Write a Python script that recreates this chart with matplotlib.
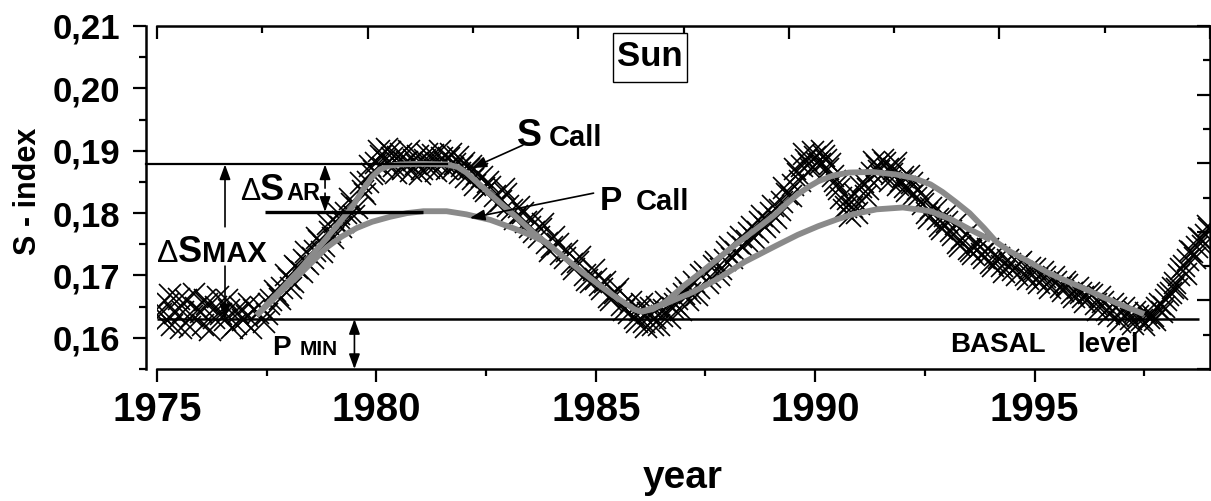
import matplotlib.pyplot as plt
from matplotlib.patches import Rectangle
from matplotlib.ticker import MultipleLocator, FuncFormatter

plt.rcParams['font.family'] = ['Liberation Sans', 'DejaVu Sans']

# measured S-index (crosses), first set
obs_year = [1975.05, 1975.15, 1975.3, 1975.4, 1975.55, 1975.65, 1975.8, 1975.9, 1976.05, 1976.15,
            1976.3, 1976.4, 1976.55, 1976.65, 1976.8, 1976.9, 1977.05, 1977.15, 1977.3,
            1977.4, 1977.5, 1977.6, 1977.75, 1977.85, 1978.0, 1978.1, 1978.2, 1978.35, 1978.45,
            1978.6, 1978.7, 1978.8, 1978.95, 1979.05, 1979.2, 1979.3, 1979.45, 1979.55, 1979.7,
            1979.8, 1979.9, 1980.0, 1980.1,
            1980.2, 1980.3, 1980.4, 1980.5, 1980.6, 1980.7, 1980.8, 1980.9, 1981.0, 1981.1,
            1981.2, 1981.3, 1981.4, 1981.5, 1981.6, 1981.7, 1981.8, 1981.9, 1982.0,
            1982.1, 1982.2, 1982.3, 1982.45, 1982.55, 1982.7, 1982.85, 1982.95, 1983.1, 1983.2,
            1983.35, 1983.5, 1983.6, 1983.75, 1983.9, 1984.0, 1984.15, 1984.3, 1984.45, 1984.6,
            1984.75, 1984.9, 1985.0, 1985.15, 1985.3, 1985.45, 1985.6, 1985.75, 1985.9, 1986.0,
            1986.1, 1986.2, 1986.3, 1986.4, 1986.5, 1986.6,
            1986.75, 1986.85, 1987.0, 1987.1, 1987.25, 1987.35, 1987.5, 1987.6, 1987.75, 1987.85,
            1988.0, 1988.1, 1988.25, 1988.35, 1988.5, 1988.6, 1988.75, 1988.85, 1989.0, 1989.1,
            1989.25, 1989.35, 1989.5, 1989.6, 1989.7, 1989.8, 1989.9, 1990.0, 1990.1, 1990.2,
            1990.3, 1990.4,
            1990.5, 1990.6, 1990.7, 1990.8, 1990.9, 1991.0, 1991.1, 1991.2, 1991.3, 1991.4,
            1991.5, 1991.6, 1991.7, 1991.8, 1991.9, 1992.0, 1992.1, 1992.2, 1992.3,
            1992.45, 1992.55, 1992.65, 1992.8, 1992.9, 1993.0, 1993.15, 1993.25, 1993.35, 1993.5,
            1993.6, 1993.75, 1993.85, 1994.0, 1994.1, 1994.25, 1994.4, 1994.5, 1994.65, 1994.8,
            1994.9, 1995.05, 1995.2, 1995.3, 1995.45, 1995.6, 1995.7, 1995.85, 1996.0, 1996.1,
            1996.25, 1996.4, 1996.5, 1996.65, 1996.8, 1996.9, 1997.05, 1997.2, 1997.3, 1997.45,
            1997.55,
            1997.7, 1997.8, 1997.9, 1998.0, 1998.1, 1998.2, 1998.3, 1998.4, 1998.5, 1998.6,
            1998.7, 1998.8, 1998.9, 1998.98]
obs_s = [0.1650, 0.1625, 0.1668, 0.1640, 0.1615, 0.1660, 0.1635, 0.1648, 0.1620, 0.1655,
         0.1632, 0.1665, 0.1628, 0.1645, 0.1622, 0.1650, 0.1635, 0.1615, 0.1640,
         0.1648, 0.1638, 0.1660, 0.1668, 0.1680, 0.1695, 0.1690, 0.1712, 0.1725, 0.1718,
         0.1740, 0.1755, 0.1748, 0.1770, 0.1785, 0.1778, 0.1800, 0.1815, 0.1808, 0.1835,
         0.1850, 0.1862, 0.1880, 0.1892,
         0.1885, 0.1898, 0.1875, 0.1890, 0.1870, 0.1882, 0.1868, 0.1878, 0.1862, 0.1885,
         0.1872, 0.1893, 0.1880, 0.1888, 0.1870, 0.1895, 0.1878, 0.1865, 0.1880,
         0.1870, 0.1855, 0.1862, 0.1840, 0.1850, 0.1828, 0.1820, 0.1830, 0.1805, 0.1795,
         0.1800, 0.1778, 0.1770, 0.1775, 0.1752, 0.1745, 0.1750, 0.1728, 0.1718, 0.1722,
         0.1700, 0.1690, 0.1695, 0.1678, 0.1665, 0.1672, 0.1652, 0.1640, 0.1632, 0.1645,
         0.1625, 0.1640, 0.1620, 0.1650, 0.1635, 0.1658,
         0.1648, 0.1662, 0.1670, 0.1660, 0.1690, 0.1680, 0.1705, 0.1698, 0.1722, 0.1710,
         0.1738, 0.1728, 0.1752, 0.1745, 0.1768, 0.1760, 0.1785, 0.1778, 0.1800, 0.1792,
         0.1818, 0.1830, 0.1845, 0.1862, 0.1875, 0.1885, 0.1870, 0.1890, 0.1878, 0.1892,
         0.1870, 0.1860,
         0.1845, 0.1825, 0.1810, 0.1795, 0.1830, 0.1815, 0.1850, 0.1838, 0.1865, 0.1875,
         0.1860, 0.1880, 0.1852, 0.1870, 0.1845, 0.1858, 0.1835, 0.1848, 0.1825,
         0.1815, 0.1800, 0.1808, 0.1790, 0.1775, 0.1785, 0.1765, 0.1752, 0.1760, 0.1742,
         0.1735, 0.1745, 0.1728, 0.1720, 0.1732, 0.1715, 0.1725, 0.1708, 0.1718, 0.1700,
         0.1712, 0.1695, 0.1705, 0.1688, 0.1698, 0.1682, 0.1690, 0.1672, 0.1680, 0.1665,
         0.1672, 0.1655, 0.1665, 0.1645, 0.1655, 0.1635, 0.1648, 0.1630, 0.1642, 0.1628,
         0.1640,
         0.1635, 0.1648, 0.1642, 0.1660, 0.1672, 0.1688, 0.1700, 0.1715, 0.1725, 0.1738,
         0.1745, 0.1758, 0.1765, 0.1775]

# measured S-index (crosses), second set
obs2_year = [1975.1, 1975.25, 1975.35, 1975.5, 1975.6, 1975.75, 1975.85, 1976.0, 1976.1, 1976.2,
             1976.35, 1976.45, 1976.6, 1976.7, 1976.85, 1976.95, 1977.1, 1977.2,
             1977.45, 1977.55, 1977.7, 1977.8, 1977.95, 1978.05, 1978.15, 1978.3, 1978.4, 1978.55,
             1978.65, 1978.75, 1978.9, 1979.0, 1979.15, 1979.25, 1979.4, 1979.5, 1979.65, 1979.75,
             1979.85, 1979.95, 1980.05,
             1980.15, 1980.25, 1980.35, 1980.45, 1980.55, 1980.65, 1980.75, 1980.85, 1980.95,
             1981.05, 1981.15, 1981.25, 1981.35, 1981.45, 1981.55, 1981.65, 1981.75, 1981.85,
             1981.95,
             1982.05, 1982.15, 1982.25, 1982.4, 1982.5, 1982.6, 1982.75, 1982.9, 1983.0, 1983.15,
             1983.25, 1983.4, 1983.55, 1983.7, 1983.8, 1983.95, 1984.05, 1984.2, 1984.35, 1984.5,
             1984.65, 1984.8, 1984.95, 1985.1, 1985.2, 1985.35, 1985.5, 1985.65, 1985.8, 1985.95,
             1986.05, 1986.15, 1986.25, 1986.35, 1986.45, 1986.55, 1986.7,
             1986.8, 1986.95, 1987.05, 1987.15, 1987.3, 1987.4, 1987.55, 1987.7, 1987.8, 1987.95,
             1988.05, 1988.2, 1988.3, 1988.45, 1988.55, 1988.7, 1988.8, 1988.95, 1989.05, 1989.2,
             1989.3, 1989.45, 1989.55, 1989.65, 1989.75, 1989.85, 1989.95, 1990.05, 1990.15,
             1990.25, 1990.35, 1990.45,
             1990.55, 1990.65, 1990.75, 1990.85, 1990.95, 1991.05, 1991.15, 1991.25, 1991.35,
             1991.45, 1991.55, 1991.65, 1991.75, 1991.85, 1991.95, 1992.05, 1992.15, 1992.25,
             1992.35,
             1992.5, 1992.6, 1992.75, 1992.85, 1992.95, 1993.1, 1993.2, 1993.3, 1993.45, 1993.55,
             1993.7, 1993.8, 1993.95, 1994.05, 1994.2, 1994.3, 1994.45, 1994.6, 1994.7, 1994.85,
             1995.0, 1995.1, 1995.25, 1995.35, 1995.5, 1995.65, 1995.75, 1995.9, 1996.05, 1996.15,
             1996.3, 1996.45, 1996.55, 1996.7, 1996.85, 1996.95, 1997.1, 1997.25, 1997.35, 1997.5,
             1997.6,
             1997.75, 1997.85, 1997.95, 1998.05, 1998.15, 1998.25, 1998.35, 1998.45, 1998.55,
             1998.65, 1998.75, 1998.85, 1998.95]
obs2_s = [0.1638, 0.1655, 0.1620, 0.1662, 0.1642, 0.1618, 0.1670, 0.1642, 0.1660, 0.1612,
          0.1650, 0.1638, 0.1660, 0.1615, 0.1640, 0.1628, 0.1655, 0.1645,
          0.1625, 0.1655, 0.1675, 0.1662, 0.1700, 0.1680, 0.1715, 0.1705, 0.1738, 0.1728,
          0.1760, 0.1738, 0.1782, 0.1760, 0.1798, 0.1785, 0.1822, 0.1795, 0.1848, 0.1830,
          0.1875, 0.1868, 0.1900,
          0.1872, 0.1902, 0.1888, 0.1865, 0.1895, 0.1880, 0.1900, 0.1885, 0.1892,
          0.1870, 0.1895, 0.1880, 0.1868, 0.1900, 0.1882, 0.1888, 0.1872, 0.1890,
          0.1875,
          0.1858, 0.1875, 0.1845, 0.1858, 0.1835, 0.1842, 0.1815, 0.1838, 0.1812, 0.1790,
          0.1810, 0.1785, 0.1790, 0.1762, 0.1782, 0.1740, 0.1762, 0.1735, 0.1740, 0.1710,
          0.1730, 0.1692, 0.1708, 0.1685, 0.1690, 0.1660, 0.1678, 0.1645, 0.1658, 0.1625,
          0.1655, 0.1618, 0.1648, 0.1632, 0.1620, 0.1645, 0.1632,
          0.1655, 0.1645, 0.1680, 0.1672, 0.1668, 0.1700, 0.1688, 0.1715, 0.1700, 0.1725,
          0.1745, 0.1738, 0.1762, 0.1755, 0.1778, 0.1770, 0.1795, 0.1785, 0.1812, 0.1805,
          0.1840, 0.1828, 0.1870, 0.1852, 0.1895, 0.1878, 0.1898, 0.1880, 0.1900,
          0.1885, 0.1878, 0.1852,
          0.1838, 0.1805, 0.1822, 0.1810, 0.1800, 0.1842, 0.1828, 0.1855, 0.1882,
          0.1868, 0.1885, 0.1870, 0.1862, 0.1880, 0.1852, 0.1842, 0.1860, 0.1830,
          0.1838,
          0.1825, 0.1792, 0.1805, 0.1780, 0.1795, 0.1772, 0.1782, 0.1748, 0.1765, 0.1740,
          0.1752, 0.1735, 0.1742, 0.1715, 0.1728, 0.1705, 0.1718, 0.1700, 0.1722, 0.1695,
          0.1710, 0.1688, 0.1698, 0.1680, 0.1690, 0.1675, 0.1685, 0.1665, 0.1672, 0.1658,
          0.1668, 0.1645, 0.1658, 0.1638, 0.1648, 0.1625, 0.1640, 0.1622, 0.1635, 0.1620,
          0.1632,
          0.1628, 0.1655, 0.1650, 0.1668, 0.1680, 0.1678, 0.1710, 0.1702, 0.1740,
          0.1728, 0.1760, 0.1748, 0.1780]

# calculated S (upper grey curve)
scall_year = [1977.27, 1977.8, 1978.26, 1978.7, 1979.09, 1979.45, 1979.7, 1979.9, 1980.08, 1980.3,
              1980.54, 1981.0, 1981.6, 1981.85, 1982.05, 1982.4, 1982.81, 1983.2, 1983.57, 1983.95,
              1984.33, 1984.7, 1985.09, 1985.4, 1985.7, 1985.9, 1986.05, 1986.3, 1986.6, 1987.0,
              1987.4, 1987.77, 1988.1, 1988.5, 1988.8, 1989.09, 1989.35, 1989.6, 1989.85, 1990.07,
              1990.4, 1990.77, 1991.3, 1991.84, 1992.25, 1992.63, 1992.9, 1993.2, 1993.52, 1993.85,
              1994.14, 1994.45, 1994.8, 1995.29, 1995.7, 1996.17, 1996.6, 1997.0, 1997.5]
scall_s = [0.1636, 0.1675, 0.1710, 0.1746, 0.1779, 0.1810, 0.1838, 0.1858, 0.1870, 0.1876,
           0.1878, 0.1879, 0.1878, 0.1874, 0.1865, 0.1843, 0.1817, 0.1793, 0.1769, 0.1748,
           0.1726, 0.1705, 0.1684, 0.1668, 0.1654, 0.1645, 0.1642, 0.1646, 0.1658, 0.1683,
           0.1705, 0.1726, 0.1745, 0.1766, 0.1782, 0.1798, 0.1815, 0.1830, 0.1842, 0.1851,
           0.1860, 0.1865, 0.1866, 0.1862, 0.1856, 0.1846, 0.1834, 0.1818, 0.1800, 0.1776,
           0.1753, 0.1738, 0.1725, 0.1705, 0.1692, 0.1678, 0.1664, 0.1652, 0.1638]

# calculated P (lower grey curves, one per cycle)
pcall1_year = [1977.27, 1977.8, 1978.3, 1978.87, 1979.2, 1979.55, 1979.9, 1980.31, 1980.7, 1981.07,
               1981.6, 1982.05, 1982.6, 1983.19, 1983.6, 1983.95]
pcall1_s = [0.1636, 0.1672, 0.1705, 0.1745, 0.1762, 0.1776, 0.1786, 0.1794, 0.1800, 0.1803,
            0.1803, 0.1798, 0.1789, 0.1774, 0.1762, 0.1750]
pcall2_year = [1986.05, 1986.6, 1987.2, 1987.77, 1988.4, 1989.09, 1989.6, 1990.07, 1990.5, 1990.86,
               1991.4, 1992.0, 1992.63, 1993.1, 1993.52, 1994.0]
pcall2_s = [0.1642, 0.1655, 0.1673, 0.1694, 0.1722, 0.1747, 0.1765, 0.1779, 0.1790, 0.1798,
            0.1806, 0.1809, 0.1803, 0.1790, 0.1774, 0.1757]

s_max = 0.1878
s_max_end = 1981.6
p_max = 0.1802
p_max_span = [1977.46, 1981.06]
basal = 0.163
basal_end = 1998.75

xticks = [1975, 1980, 1985, 1990, 1995]
yticks = [0.16, 0.17, 0.18, 0.19, 0.20, 0.21]

W, H = 1211, 501
GREY = '#8a8a8a'


def fx(px):
    return px / W


def fy(py):
    return 1 - py / H


fig = plt.figure(figsize=(W / 100, H / 100), dpi=100)
ax = fig.add_axes([fx(157), fy(369), 1053 / W, 343 / H])
ax.set_xlim(1975, 1999)
ax.set_ylim(0.155, 0.21)

ax.plot(obs_year, obs_s, ls='none', marker='x', ms=16, mew=1.2, color='k', zorder=1)
ax.plot(obs2_year, obs2_s, ls='none', marker='x', ms=16, mew=1.2, color='k', zorder=1)
ax.plot(scall_year, scall_s, color=GREY, lw=4.2, solid_capstyle='butt', zorder=2)
ax.plot(pcall1_year, pcall1_s, color=GREY, lw=4.2, solid_capstyle='butt', zorder=2)
ax.plot(pcall2_year, pcall2_s, color=GREY, lw=4.2, solid_capstyle='butt', zorder=2)

# reference levels
ax.axhline(s_max, xmin=-0.0104, xmax=(s_max_end - 1975) / 24, color='k', lw=1.6,
           clip_on=False, zorder=3)
ax.hlines(p_max, p_max_span[0], p_max_span[1], color='k', lw=2.4, zorder=3)
ax.hlines(basal, 1975, basal_end, color='k', lw=1.8, zorder=3)

arr = dict(arrowstyle='-|>,head_length=0.6,head_width=0.22', color='k', lw=1.2,
           mutation_scale=15, shrinkA=0, shrinkB=0)
arr2 = dict(arrowstyle='<|-|>,head_length=0.6,head_width=0.22', color='k', lw=1.2,
            mutation_scale=15, shrinkA=0, shrinkB=0)
# delta S max
ax.annotate('', xy=(1976.55, s_max), xytext=(1976.55, 0.1778), arrowprops=arr)
ax.annotate('', xy=(1976.55, basal), xytext=(1976.55, 0.1715), arrowprops=arr)
# delta S AR
ax.annotate('', xy=(1978.83, s_max), xytext=(1978.83, 0.1840), arrowprops=arr)
ax.annotate('', xy=(1978.83, p_max), xytext=(1978.83, 0.1832), arrowprops=arr)
# P min
ax.annotate('', xy=(1979.5, 0.155), xytext=(1979.5, basal), arrowprops=arr2,
            annotation_clip=False)
# label arrows
ax.annotate('', xy=(1982.17, 0.1872), xytext=(1983.34, 0.1909), arrowprops=arr)
ax.annotate('', xy=(1982.13, 0.1792), xytext=(1984.95, 0.1832), arrowprops=arr)

# axes styling
ax.spines['left'].set_position(('outward', 8))
for sp in ax.spines.values():
    sp.set_linewidth(1.8)
ax.set_xticks(xticks)
ax.xaxis.set_minor_locator(MultipleLocator(2.5))
ax.set_yticks(yticks)
ax.yaxis.set_minor_locator(MultipleLocator(0.005))
ax.yaxis.set_major_formatter(FuncFormatter(lambda v, p: f'{v:.2f}'.replace('.', ',')))
ax.tick_params(which='major', direction='out', length=9.5, width=1.6)
ax.tick_params(which='minor', direction='out', length=5, width=1.6)
ax.tick_params(axis='x', labelsize=29, pad=6)
ax.tick_params(axis='y', labelsize=25, pad=9)
for lab in ax.get_xticklabels() + ax.get_yticklabels():
    lab.set_fontweight('bold')

axt = ax.twiny()
axt.set_xlim(0, 1)
axt.xaxis.set_major_locator(MultipleLocator(0.2))
axt.xaxis.set_minor_locator(MultipleLocator(0.1))
axt.tick_params(axis='x', which='both', direction='in', top=True, bottom=False,
                labeltop=False, labelbottom=False, width=1.6)
axt.tick_params(axis='x', which='major', length=9.5)
axt.tick_params(axis='x', which='minor', length=5)

axr = ax.twinx()
axr.set_ylim(0, 1)
axr.yaxis.set_major_locator(MultipleLocator(0.2))
axr.yaxis.set_minor_locator(MultipleLocator(0.1))
axr.tick_params(axis='y', which='both', direction='in', right=True, left=False,
                labelright=False, labelleft=False, width=1.6)
axr.tick_params(axis='y', which='major', length=9.5)
axr.tick_params(axis='y', which='minor', length=5)
for a in (axt, axr):
    for sp in a.spines.values():
        sp.set_visible(False)

fig.text(fx(28), fy(191), 'S - index', rotation=90, ha='center', va='center',
         fontsize=22, fontweight='bold')
fig.text(fx(683), fy(488), 'year', ha='center', va='baseline', fontsize=28, fontweight='bold')


def put(px, py, s, size, weight='bold'):
    fig.text(fx(px), fy(py), s, ha='left', va='baseline', fontsize=size, fontweight=weight)


put(157, 262, '\u0394', 23, 'normal')
put(178, 262, 'S', 26)
put(202, 262, 'MAX', 21)
put(240, 200, '\u0394', 22, 'normal')
put(260, 200, 'S', 26)
put(286, 200, 'AR', 17)
put(272, 355, 'P', 20)
put(300, 355, 'MIN', 15)
put(517, 146, 'S', 27)
put(549, 146, 'Call', 21)
put(600, 210, 'P', 24)
put(636, 210, 'Call', 21)
put(950, 352, 'BASAL', 20)
put(1077, 352, 'level', 20)

fig.patches.append(Rectangle((fx(613), fy(82)), (687 - 613) / W, (82 - 33) / H,
                             transform=fig.transFigure, fill=False, ec='k', lw=1.0))
fig.text(fx(650), fy(57), 'Sun', ha='center', va='center', fontsize=25, fontweight='bold')

fig.savefig('out.png', dpi=100)
